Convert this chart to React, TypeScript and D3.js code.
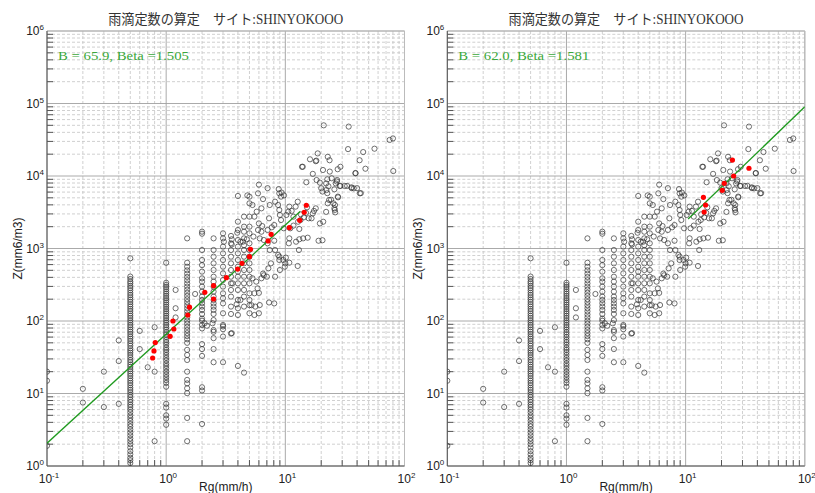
import React from 'react';
import * as d3 from 'd3';

const TITLE = '雨滴定数の算定　サイト:SHINYOKOOO';
const X_LABEL = 'Rg(mm/h)';
const Y_LABEL = 'Z(mm6/m3)';
const X_EXPONENTS = [-1, 0, 1, 2];
const Y_EXPONENTS = [0, 1, 2, 3, 4, 5, 6];

// Rain-gauge columns (Rg quantised) and the Z values observed in each
const columnRg = [0.1, 0.2, 0.3, 0.4, 0.5, 0.6, 0.7, 0.8, 1.0, 1.2, 1.5, 2.0, 2.5, 3.0, 3.5, 4.0, 4.5, 5.0];
const columnZ: number[][] = [
  [20, 15, 1.9],
  [11.6, 7.5],
  [20, 6.5],
  [54, 28, 7.2],
  [733, 410, 380, 350, 330, 305, 285, 265, 245, 228, 212, 197, 183, 170, 158, 147, 137, 127, 118, 110, 102, 95, 88, 82, 76, 71, 66, 61, 57, 53, 49, 45.5, 42, 39, 36.5, 34, 31.5, 29, 27, 25, 23.3, 21.7, 20.2, 18.8, 17.5, 16.2, 15, 14, 13, 12, 11.2, 10.4, 9.6, 8.9, 8.2, 7.6, 7, 6.5, 6, 5.5, 5, 4.6, 4.2, 3.8, 3.5, 3.2, 2.9, 2.65, 2.4, 2.2, 2.0, 1.8, 1.6, 1.45, 1.3, 1.2, 1.1],
  [73, 41],
  [23],
  [82, 20, 2.2],
  [636, 337, 315, 295, 275, 255, 238, 222, 207, 193, 180, 168, 157, 146, 136, 127, 118, 110, 102, 95, 88, 82, 76, 70, 65, 60, 55, 51, 47, 43, 40, 37, 34, 31, 28.5, 26, 24, 22, 20, 18.3, 16.8, 15.3, 14, 12.4, 7.2, 6.4, 5.0, 4.5, 3.7],
  [268, 150, 112],
  [1380, 636, 560, 500, 450, 405, 365, 330, 298, 270, 245, 222, 200, 182, 165, 150, 136, 123, 112, 101, 92, 83, 75, 68, 62, 56, 50, 40, 34, 29, 20, 15.4, 13.8, 11.8, 10.1, 4.6, 2.2],
  [1705, 1600, 953, 694, 590, 479, 388, 349, 298, 254, 217, 195, 176, 158, 142, 125, 108, 101, 88, 79, 48, 41, 33, 12.2, 11, 3.8],
  [1380, 953, 771, 624, 505, 408, 349, 298, 254, 217, 195, 175, 158, 142, 125, 103, 75, 58, 41, 27],
  [1620, 1380, 1060, 857, 694, 561, 454, 368, 298, 241, 206, 175, 128, 88, 61, 27],
  [1490, 1180, 953, 771, 624, 505, 408, 331, 268, 217, 158, 125, 67],
  [2340, 1800, 1310, 1060, 857, 694, 561, 479, 408, 331, 268, 195, 150, 121, 24],
  [2000, 1705, 1380, 1110, 953, 771, 624, 505, 408, 331, 268, 217, 158, 19.4],
  [5190, 4200, 2750, 2000, 1620, 1180, 953, 771, 624, 505, 408, 331, 241, 195, 165, 128],
];

// Scattered observations [Rg, Z]
const cloud: [number, number][] = [
  [15, 8200], [18.3, 8800], [19.5, 8100], [22.5, 9000], [24.5, 9300], [27, 8400], [29, 7300], [33, 7300],
  [36, 6800], [40, 6800], [43, 5800], [22, 7900], [23, 7200], [26.5, 7900], [20, 6800], [20.5, 6100],
  [25.8, 6550], [27.6, 5200], [22.5, 5800], [24.2, 4700], [25.3, 4200], [25.8, 3580], [26.2, 3150],
  [22.7, 4200], [22, 3200], [20.8, 2340], [19.5, 2220], [17, 3050], [16.6, 2610], [15.2, 3700],
  [14.9, 3100], [17.4, 3300], [18, 3580], [15.7, 2610], [14.3, 2690], [13.5, 2960], [12.7, 4420],
  [12.2, 3780], [10.8, 3780], [10.6, 3220], [10.2, 2900], [11.3, 3300], [11.7, 2750], [12.8, 2340],
  [13.4, 2470], [13.1, 1860], [11.7, 2070], [11, 1900], [9.7, 1900], [9.2, 2470], [9.0, 2900],
  [8.9, 3400], [8.7, 3980], [8.2, 4420], [9.2, 5190], [8.9, 5770], [9.3, 5900], [9.75, 5400],
  [8.8, 6600], [7.1, 6800], [6.0, 7600], [5.9, 5770], [6.5, 4800], [7.4, 3980], [6.3, 3580],
  [5.75, 3220], [5.3, 3980], [4.8, 5400], [4.0, 5300], [4.5, 2750], [5.5, 2750], [6.0, 2220],
  [6.4, 2040], [7.3, 2610], [8.07, 2110], [7.7, 1960], [7.1, 1800], [6.3, 1705], [5.9, 1800],
  [5.4, 1460], [4.75, 1340], [3.95, 1650], [4.2, 1240], [4.4, 1240], [3.55, 1340], [3.55, 1140],
  [3.05, 1240], [6.1, 1380], [6.6, 1310], [7.1, 1180], [8.07, 1280], [7.4, 953], [8.2, 953],
  [8.7, 815], [8.9, 771], [9.6, 694], [10.1, 748], [10.7, 1180], [10.8, 1380], [12.3, 1240],
  [13.1, 1340], [14.1, 1380], [15.4, 1410], [19, 1280], [20.5, 1300], [13, 953], [12.7, 574],
  [10.8, 637], [9.9, 561], [9.0, 505], [8.2, 408], [8.9, 694], [10, 624], [7.2, 532], [7.57, 624],
  [8.07, 175], [7.0, 408], [6.5, 450], [6.3, 388], [5.7, 349], [5.3, 388], [5.5, 241], [5.85, 282],
  [6.0, 244], [5.5, 121], [6.0, 128], [6.6, 427], [6.1, 166], [5.2, 165], [3.9, 170], [4.2, 195],
  [3.6, 331], [3.55, 68], [3.0, 84], [3.0, 77], [2.5, 71], [2.45, 93], [2.1, 93], [2.2, 86],
  [1.75, 236], [5.6, 158], [7.3, 180],
  [21, 50000], [34, 48000], [75, 31400], [80, 33000], [33.6, 23500], [56, 23800], [45, 21400],
  [18.7, 20500], [16.1, 17000], [18, 16000], [22.7, 18400], [23.5, 16500], [42, 16500], [14, 13400],
  [20.7, 12100], [27.5, 12400], [29, 13400], [47, 12600], [80.5, 11700], [17, 10700], [38.8, 11000],
  [38.8, 10900], [42.2, 5770], [37.5, 6760], [35.9, 6980], [31.5, 7280], [28.6, 7280], [27.7, 5080],
  [26.1, 3980], [26, 3400], [23.3, 4670], [22.1, 6400], [27.2, 8800], [23.6, 11500], [18.2, 16300],
  [13.8, 13400],
];

// Bin means (red) and fits for the two panels
const redLeft: [number, number][] = [
  [0.81, 50.4], [0.79, 38.6], [0.77, 30.9], [1.14, 100], [1.16, 77.6], [1.08, 61.5], [1.57, 155],
  [1.52, 121], [2.11, 249], [2.5, 307], [2.5, 201], [3.2, 396], [3.98, 521], [4.33, 625], [5.0, 771],
  [5.1, 975], [7.18, 1270], [7.6, 1570], [10.8, 1940], [13.2, 2450], [14.4, 3160], [15, 3950],
];
const redRight: [number, number][] = [
  [24.7, 16600], [34, 12800], [25.3, 10000], [21.1, 7930], [20.3, 6350], [14.1, 5080], [14.7, 3980], [14.3, 3190],
];
const fitB = [65.9, 62.0];
const fitBeta = [1.505, 1.581];
const fitRange: [number, number][] = [[0.1, 13.3], [10.5, 100]];

const allPoints: [number, number][] = [
  ...columnRg.flatMap((r, i) => columnZ[i].map((z) => [r, z] as [number, number])),
  ...cloud,
];

const TOP = 31;
const BOTTOM = 466;
const WIDTH = 357.5;

function Panel({ left, idx, red }: { left: number; idx: number; red: [number, number][] }) {
  const right = left + WIDTH;
  const x = d3.scaleLog().domain([0.1, 100]).range([left, right]);
  const y = d3.scaleLog().domain([1, 1e6]).range([BOTTOM, TOP]);
  const minorX: number[] = [];
  for (let e = -1; e < 2; e++) for (let k = 2; k <= 9; k++) minorX.push(k * Math.pow(10, e));
  const minorY: number[] = [];
  for (let e = 0; e < 6; e++) for (let k = 2; k <= 9; k++) minorY.push(k * Math.pow(10, e));
  const B = fitB[idx];
  const beta = fitBeta[idx];
  const [r0, r1] = fitRange[idx];
  const line = d3
    .line<number>()
    .x((r) => x(r))
    .y((r) => y(B * Math.pow(r, beta)));
  const clipId = `clip${idx}`;
  const labelFont = "'Liberation Sans', Arial, sans-serif";
  return (
    <g>
      <defs>
        <clipPath id={clipId}>
          <rect x={left} y={TOP} width={right - left} height={BOTTOM - TOP} />
        </clipPath>
      </defs>
      {/* minor grid */}
      {minorX.map((v) => (
        <line key={'mx' + v} x1={x(v)} x2={x(v)} y1={TOP} y2={BOTTOM} stroke="#c4c4c4" strokeWidth={0.8} strokeDasharray="3,2" />
      ))}
      {minorY.map((v) => (
        <line key={'my' + v} x1={left} x2={right} y1={y(v)} y2={y(v)} stroke="#c4c4c4" strokeWidth={0.8} strokeDasharray="3,2" />
      ))}
      {/* major grid */}
      {X_EXPONENTS.map((e) => (
        <line key={'Mx' + e} x1={x(Math.pow(10, e))} x2={x(Math.pow(10, e))} y1={TOP} y2={BOTTOM} stroke="#a0a0a0" strokeWidth={0.9} />
      ))}
      {Y_EXPONENTS.map((e) => (
        <line key={'My' + e} x1={left} x2={right} y1={y(Math.pow(10, e))} y2={y(Math.pow(10, e))} stroke="#a0a0a0" strokeWidth={0.9} />
      ))}
      {/* frame */}
      <line x1={left} x2={right} y1={TOP} y2={TOP} stroke="#bbbbbb" strokeWidth={1} />
      <line x1={right} x2={right} y1={TOP} y2={BOTTOM} stroke="#bbbbbb" strokeWidth={1} />
      <line x1={left} x2={left} y1={TOP} y2={BOTTOM} stroke="#555" strokeWidth={1} />
      <line x1={left} x2={right} y1={BOTTOM} y2={BOTTOM} stroke="#555" strokeWidth={1} />
      {/* ticks */}
      {minorY.map((v) => (
        <line key={'ty' + v} x1={left} x2={left + 6} y1={y(v)} y2={y(v)} stroke="#555" strokeWidth={1} />
      ))}
      {minorX.map((v) => (
        <line key={'tx' + v} x1={x(v)} x2={x(v)} y1={BOTTOM} y2={BOTTOM - 6} stroke="#555" strokeWidth={1} />
      ))}
      {/* tick labels */}
      {Y_EXPONENTS.map((e) => (
        <text key={'ly' + e} x={left - 3} y={y(Math.pow(10, e)) + 4} textAnchor="end" fontFamily={labelFont} fontSize={12} fill="#222">
          10<tspan dy={-5} fontSize={8}>{e}</tspan>
        </text>
      ))}
      {X_EXPONENTS.map((e) => (
        <text key={'lx' + e} x={x(Math.pow(10, e)) + 2} y={483} textAnchor="middle" fontFamily={labelFont} fontSize={12} fill="#222">
          10<tspan dy={-5} fontSize={8}>{e}</tspan>
        </text>
      ))}
      {/* axis labels */}
      <text x={(left + right) / 2} y={491} textAnchor="middle" fontFamily={labelFont} fontSize={12} fill="#222">
        {X_LABEL}
      </text>
      <text
        transform={`translate(${left - 25},${(TOP + BOTTOM) / 2}) rotate(-90)`}
        textAnchor="middle"
        fontFamily={labelFont}
        fontSize={12}
        fill="#222"
      >
        {Y_LABEL}
      </text>
      {/* title */}
      <text
        x={(left + right) / 2}
        y={24}
        textAnchor="middle"
        fontFamily="'Liberation Serif', 'Noto Sans CJK JP', serif"
        fontSize={14}
        fill="#333"
        textLength={235}
        lengthAdjust="spacingAndGlyphs"
      >
        {TITLE}
      </text>
      <g clipPath={`url(#${clipId})`}>
        {allPoints.map(([r, z], i) => (
          <circle key={'p' + i} cx={x(r)} cy={y(z)} r={2.6} fill="none" stroke="#333" strokeWidth={0.7} />
        ))}
        <path d={line([r0, r1]) || ''} fill="none" stroke="#1f9a1f" strokeWidth={1.3} />
        {red.map(([r, z], i) => (
          <circle key={'r' + i} cx={x(r)} cy={y(z)} r={2.6} fill="#ff0000" />
        ))}
      </g>
      <text
        x={left + 11}
        y={60}
        fontFamily="'Liberation Serif', serif"
        fontSize={13}
        fill="#3aa83a"
        textLength={131}
        lengthAdjust="spacingAndGlyphs"
      >
        {`B = ${B.toFixed(1)}, Beta =${beta.toFixed(3)}`}
      </text>
    </g>
  );
}

export default function App() {
  return (
    <svg
      width={815}
      height={493}
      style={{ position: 'absolute', left: 0, top: 0, background: '#fff' }}
    >
      <rect width={815} height={493} fill="#fff" />
      <Panel left={47} idx={0} red={redLeft} />
      <Panel left={447.3} idx={1} red={redRight} />
    </svg>
  );
}
